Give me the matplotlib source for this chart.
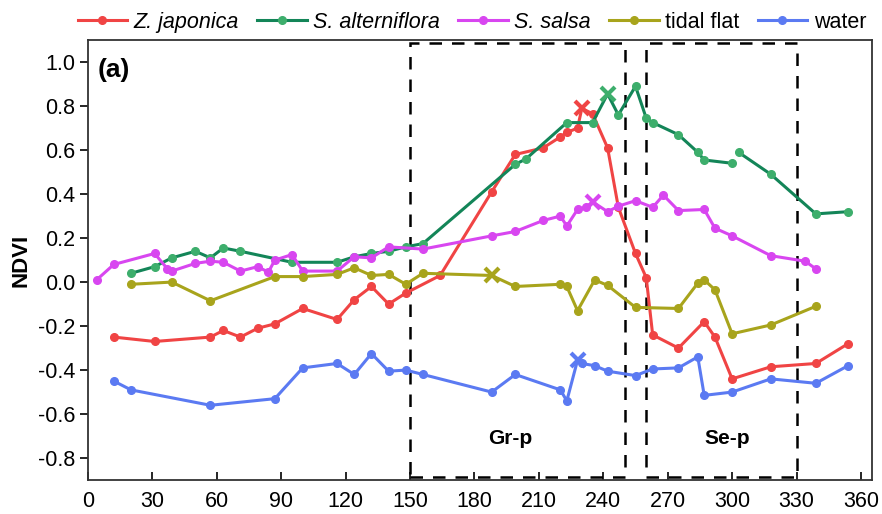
import matplotlib
matplotlib.use("Agg")
import matplotlib.pyplot as plt
from matplotlib.patches import Rectangle
import numpy as np

plt.rcParams['font.family'] = ['Liberation Sans Narrow', 'Liberation Sans', 'DejaVu Sans']

# day of year / NDVI per land cover type
zj_doy = [12, 31, 57, 63, 71, 79, 87, 100, 116, 124, 132, 140, 148, 164, 188, 199, 212, 220, 223,
          228, 230, 235, 242, 247, 255, 260, 263, 275, 287, 292, 300, 318, 339, 354]
zj_ndvi = [-0.25, -0.27, -0.25, -0.22, -0.25, -0.21, -0.19, -0.12, -0.17, -0.08, -0.02, -0.10, -0.05,
           0.03, 0.41, 0.58, 0.61, 0.66, 0.68, 0.70, 0.79, 0.765, 0.61, 0.34, 0.13, 0.02, -0.24, -0.30,
           -0.18, -0.25, -0.44, -0.385, -0.37, -0.28]
zj_peak = 20

sa_doy = [20, 31, 39, 50, 57, 63, 71, 95, 116, 124, 132, 140, 148, 156, 199, 204, 223, 235, 242, 247,
          255, 260, 263, 275, 284, 287, 300, np.nan, 303, 318, 339, 354]
sa_ndvi = [0.04, 0.07, 0.11, 0.14, 0.11, 0.155, 0.14, 0.09, 0.09, 0.115, 0.13, 0.14, 0.16, 0.175, 0.535,
           0.56, 0.725, 0.725, 0.855, 0.76, 0.89, 0.745, 0.725, 0.67, 0.59, 0.555, 0.54, np.nan, 0.59,
           0.49, 0.31, 0.32]
sa_peak = 18

ss_doy = [4, 12, 31, 37, 39, 50, 57, 63, 71, 79, 84, 87, 95, 100, 116, 124, 132, 140, 156, 188, 199,
          212, 220, 223, 228, 232, 235, 242, 247, 255, 263, 268, 275, 287, 292, 300, 318, 334, 339]
ss_ndvi = [0.01, 0.08, 0.13, 0.06, 0.05, 0.085, 0.095, 0.09, 0.05, 0.07, 0.045, 0.10, 0.125, 0.05, 0.05,
           0.115, 0.11, 0.16, 0.15, 0.21, 0.23, 0.28, 0.30, 0.255, 0.33, 0.34, 0.365, 0.32, 0.345, 0.37,
           0.34, 0.395, 0.325, 0.33, 0.245, 0.21, 0.12, 0.095, 0.06]
ss_peak = 26

tf_doy = [20, 39, 57, 87, 100, 116, 124, 132, 140, 148, 156, 188, 199, 220, 223, 228, 236, 242, 255,
          275, 284, 287, 292, 300, 318, 339]
tf_ndvi = [-0.01, 0.0, -0.085, 0.025, 0.025, 0.035, 0.065, 0.03, 0.035, -0.01, 0.04, 0.03, -0.02, -0.01,
           -0.02, -0.13, 0.01, -0.015, -0.115, -0.12, -0.005, 0.01, -0.035, -0.235, -0.195, -0.11]
tf_peak = 11

wt_doy = [12, 20, 57, 87, 100, 116, 124, 132, 140, 148, 156, 188, 199, 220, 223, 228, 230, 236, 242,
          255, 263, 275, 284, 287, 300, 318, 339, 354]
wt_ndvi = [-0.45, -0.49, -0.56, -0.53, -0.39, -0.37, -0.42, -0.325, -0.405, -0.40, -0.42, -0.50, -0.42,
           -0.49, -0.54, -0.355, -0.37, -0.38, -0.405, -0.425, -0.395, -0.39, -0.34, -0.515, -0.50,
           -0.44, -0.46, -0.38]
wt_peak = 15

labels = ["Z. japonica", "S. alterniflora", "S. salsa", "tidal flat", "water"]
line_colors = ['#F04444', '#138558', '#D846F0', '#A8A41C', '#5B7AF2']
dot_colors = ['#F04444', '#3DAE6C', '#D846F0', '#A8A41C', '#5B7AF2']

# growing period / senescence period windows: name, start, end, label x
periods = [("Gr-p", 150, 250, 196.5), ("Se-p", 260, 330, 297.5)]

yticks = [-0.8, -0.6, -0.4, -0.2, 0.0, 0.2, 0.4, 0.6, 0.8, 1.0]

series = [(zj_doy, zj_ndvi, zj_peak), (sa_doy, sa_ndvi, sa_peak), (ss_doy, ss_ndvi, ss_peak),
          (tf_doy, tf_ndvi, tf_peak), (wt_doy, wt_ndvi, wt_peak)]

fig = plt.figure(figsize=(8.82, 5.14), dpi=100)
ax = fig.add_axes([0.0998, 0.066, 0.8885, 0.856])

handles = []
for (doy, ndvi, peak), lab, lc, dc in zip(series, labels, line_colors, dot_colors):
    doy = np.array(doy, dtype=float)
    ndvi = np.array(ndvi, dtype=float)
    keep = [i for i in range(len(doy)) if i != peak]
    h, = ax.plot(doy, ndvi, color=lc, lw=2.2, marker='o', ms=5.5, mfc=dc, mec=dc,
                 markevery=keep, label=lab, zorder=3)
    ax.plot(doy[peak], ndvi[peak], marker='x', ms=10, mew=3, color=dc, ls='', zorder=4)
    handles.append(h)

for name, start, end, lx in periods:
    ax.add_patch(Rectangle((start, -0.885), end - start, 1.97, fill=False, ec='black', lw=1.8,
                           ls=(0, (5, 4)), zorder=2))
    ax.text(lx, -0.71, name, fontsize=15, fontweight='bold', ha='center', va='center')

ax.text(0.012, 0.96, "(a)", transform=ax.transAxes, fontsize=19, fontweight='bold', va='top', ha='left')

ax.set_xlim(0, 365)
ax.set_ylim(-0.9, 1.1)
ax.set_xticks(np.arange(0, 361, 30))
ax.set_yticks(yticks)
ax.set_yticklabels([f"{v:.1f}" for v in yticks])
ax.tick_params(axis='x', direction='in', length=6, width=1.2, labelsize=15.5, pad=8)
ax.tick_params(axis='y', direction='out', length=6, width=1.2, labelsize=15.5, pad=3)
ax.set_ylabel("NDVI", fontsize=16, fontweight='bold', labelpad=5)
for s in ax.spines.values():
    s.set_linewidth(1.3)
    s.set_color('#333333')

leg = fig.legend(handles=handles, loc='upper center', bbox_to_anchor=(0.535, 1.015), ncol=5,
                 frameon=False, fontsize=15.5, handlelength=2.3, columnspacing=0.85, handletextpad=0.3)
for t in leg.get_texts()[:3]:
    t.set_fontstyle('italic')

fig.savefig("out.png", dpi=100)
